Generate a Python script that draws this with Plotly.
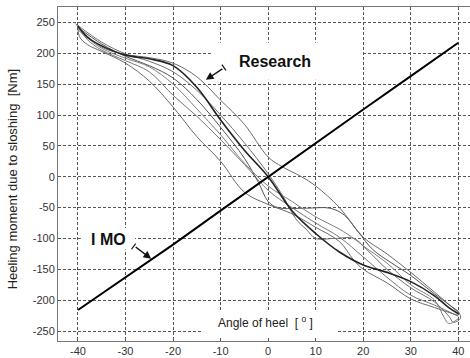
import plotly.graph_objects as go

# ---------------- data ----------------
x_ticks = [-40, -30, -20, -10, 0, 10, 20, 30, 40]
y_ticks = [-250, -200, -150, -100, -50, 0, 50, 100, 150, 200, 250]

imo_x = [-40, -30, -20, -10, 0, 10, 20, 30, 40]
imo_y = [-216, -163, -110, -55, 0, 54, 109, 163, 217]

res1_x = [-40.5, -39, -35, -30, -25, -20, -15, -10, -5, 0, 3, 7, 10, 15, 20, 25, 30, 35, 40]
res1_y = [248, 235, 210, 198, 193, 184, 162, 124, 85, 32, 16, 0, -15, -50, -98, -125, -155, -187, -220]

res2_x = [-40, -38, -35, -30, -25, -20, -15, -10, -5, 0, 5, 10, 15, 20, 25, 30, 35, 38, 40]
res2_y = [244, 226, 212, 197, 191, 180, 145, 92, 43, 0, -55, -92, -122, -143, -155, -170, -193, -212, -222]

res3_x = [-39.8, -38, -35, -30, -25, -20, -15, -10, -5, 0, 5, 10, 15, 20, 25, 30, 35, 40]
res3_y = [240, 222, 205, 188, 170, 132, 98, 60, 20, -22, -50, -75, -98, -130, -163, -192, -208, -226]

res4_x = [-40, -39.7, -38, -35, -30, -25, -20, -15, -10, -5, 0, 5, 10, 15, 18, 20, 25, 30, 35, 40]
res4_y = [246, 227, 214, 203, 184, 155, 113, 65, 25, -25, -45, -60, -82, -105, -135, -150, -172, -198, -212, -225]

res5_x = [-40, -35, -30, -25, -20, -15, -10, -5, -2, 0, 2, 8, 13, 16, 19, 22, 26, 30, 35, 38, 40]
res5_y = [242, 215, 195, 180, 160, 125, 80, 30, -10, -40, -50, -51, -51, -62, -90, -118, -140, -160, -190, -207, -218]

res6_x = [-40, -35, -30, -25, -20, -15, -10, -5, 0, 3, 6, 8, 10, 14, 18, 21, 25, 30, 35, 38, 39, 40.5, 40]
res6_y = [245, 218, 199, 187, 170, 140, 100, 55, 5, -30, -70, -85, -100, -100, -100, -120, -150, -180, -203, -226, -236, -229, -218]

res7_x = [-40, -35, -30, -25, -20, -15, -10, -5, 0, 5, 10, 15, 18, 20, 25, 30, 35, 37, 38, 40]
res7_y = [238, 208, 192, 178, 150, 110, 68, 22, -15, -40, -65, -85, -100, -112, -140, -175, -200, -228, -238, -230]

research = [
    (res1_x, res1_y, "#6a6a6a", 1.0),
    (res3_x, res3_y, "#777777", 1.0),
    (res4_x, res4_y, "#6a6a6a", 1.0),
    (res5_x, res5_y, "#555555", 1.0),
    (res6_x, res6_y, "#707070", 1.0),
    (res7_x, res7_y, "#808080", 1.0),
    (res2_x, res2_y, "#222222", 1.6),
]

fig = go.Figure()
for xs, ys, col, w in research:
    fig.add_trace(go.Scatter(x=xs, y=ys, mode="lines", line=dict(color=col, width=w),
                             line_shape="spline", showlegend=False, hoverinfo="skip"))

fig.add_trace(go.Scatter(x=imo_x, y=imo_y, mode="lines", line=dict(color="#000000", width=2),
                         showlegend=False, hoverinfo="skip"))

font_family = "Liberation Sans, Arial, sans-serif"

fig.update_layout(
    width=470, height=358,
    margin=dict(l=58, r=0, t=7, b=17),
    paper_bgcolor="white", plot_bgcolor="white",
    font=dict(family=font_family, size=11, color="#333333"),
    xaxis=dict(range=[-44.2, 42.46], tickvals=x_ticks, ticktext=[str(v) for v in x_ticks],
               showgrid=True, gridcolor="#555555", gridwidth=1, griddash="3px,2px",
               zeroline=False, showline=True, linecolor="#777777", linewidth=1, mirror=True,
               ticks="inside", ticklen=3, tickcolor="#555555",
               tickfont=dict(size=11, color="#333333")),
    yaxis=dict(range=[-266.2, 275], tickvals=y_ticks, ticktext=[str(v) for v in y_ticks],
               showgrid=True, gridcolor="#555555", gridwidth=1, griddash="3px,2px",
               zeroline=False, showline=True, linecolor="#777777", linewidth=1,
               ticks="inside", ticklen=3, tickcolor="#555555",
               tickfont=dict(size=11, color="#333333")),
)

# white boxes behind labels that break the grid (above grid, below traces)
for (bx0, bx1, by0, by1) in [(-12.0, 19.5, 157, 217), (-39.4, -28.0, -83, -118), (-14, 14.5, -218, -266)]:
    fig.add_shape(type="rect", xref="x", yref="y", x0=bx0, x1=bx1, y0=by0, y1=by1,
                  fillcolor="white", line=dict(width=0), layer="between")

fig.add_annotation(text="Heeling moment due to sloshing  [Nm]", xref="paper", yref="paper",
                   x=-0.111, y=0.485, textangle=-90, showarrow=False,
                   font=dict(size=13, color="#222222"), xanchor="center", yanchor="middle")
fig.add_annotation(text="Angle of heel  [ <sup>o</sup> ]", x=-0.5, y=-236, showarrow=False,
                   font=dict(size=12, color="#222222"), xanchor="center", yanchor="middle")
fig.add_annotation(text="<b>Research</b>", x=1.4, y=187, showarrow=False,
                   font=dict(size=16, color="#111111"), xanchor="center", yanchor="middle")
fig.add_annotation(text="<b>I MO</b>", x=-33.6, y=-101, showarrow=False,
                   font=dict(size=16, color="#111111"), xanchor="center", yanchor="middle")

# arrows
fig.add_annotation(x=-13.1, y=157, ax=18, ay=-12, text="", showarrow=True,
                   arrowhead=2, arrowsize=1.1, arrowwidth=1.4, arrowcolor="#111111")
fig.add_annotation(x=-24.6, y=-133, ax=-17, ay=-13, text="", showarrow=True,
                   arrowhead=2, arrowsize=1.1, arrowwidth=1.4, arrowcolor="#111111")
fig.add_shape(type="line", xref="x", yref="y", xsizemode="pixel", ysizemode="pixel",
              xanchor=-9.3, yanchor=177, x0=-2, y0=2.9, x1=2, y1=-2.9,
              line=dict(color="#111111", width=1.2))
fig.add_shape(type="line", xref="x", yref="y", xsizemode="pixel", ysizemode="pixel",
              xanchor=-28.3, yanchor=-113, x0=-2.1, y0=-2.8, x1=2.1, y1=2.8,
              line=dict(color="#111111", width=1.2))

fig.write_html("out.html", config={"displayModeBar": False},
               post_script="document.body.style.margin='0px';document.body.style.padding='0px';")
